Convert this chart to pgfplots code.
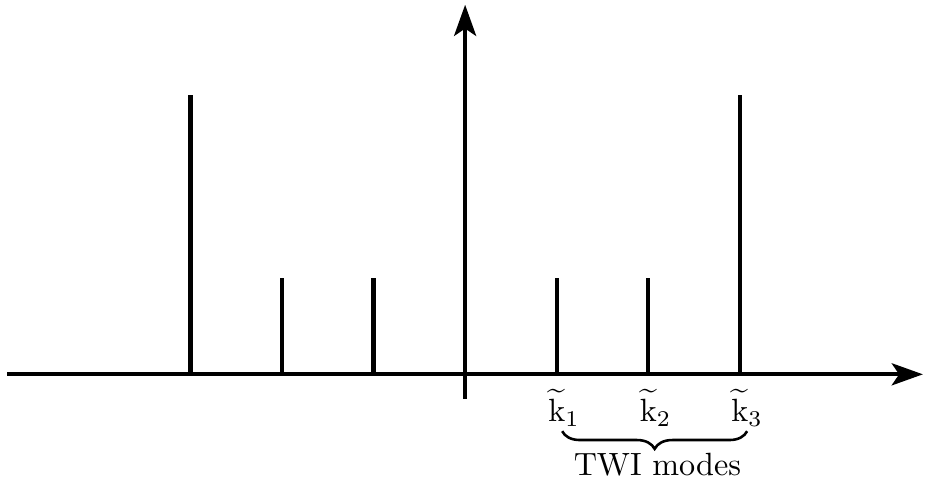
\documentclass[border=0pt]{standalone}
\usepackage{pgfplots}
\pgfplotsset{compat=1.18}
\usetikzlibrary{arrows.meta,decorations.pathreplacing}
\begin{document}
\begin{tikzpicture}
\begin{axis}[
  x=1cm, y=1.035cm,
  xmin=-5, xmax=5, ymin=-0.26, ymax=3.9,
  axis lines=middle,
  axis line style={line width=1.3pt, -{Stealth[length=3.4mm,width=2.4mm,inset=0.8mm]}},
  ticks=none,
  clip=false,
]
\addplot[ycomb, line width=1.35pt, black, mark=none] coordinates {
(-3,2.95) (-2,1.02) (-1,1.02) (1,1.02) (2,1.02) (3,2.95)
};
\node[anchor=north] at (axis cs:1.08,-0.04) {$\widetilde{\mathrm{k}}_1$};
\node[anchor=north] at (axis cs:2.08,-0.04) {$\widetilde{\mathrm{k}}_2$};
\node[anchor=north] at (axis cs:3.08,-0.04) {$\widetilde{\mathrm{k}}_3$};
\draw[line width=0.8pt, decorate, decoration={brace, mirror, amplitude=5.5pt}] (axis cs:1.06,-0.6) -- (axis cs:3.08,-0.6);
\node at (axis cs:2.1,-0.95) {TWI modes};
\path[use as bounding box] (axis cs:-5.08,-1.07) rectangle (axis cs:4.98,3.95);
\end{axis}
\end{tikzpicture}
\end{document}
